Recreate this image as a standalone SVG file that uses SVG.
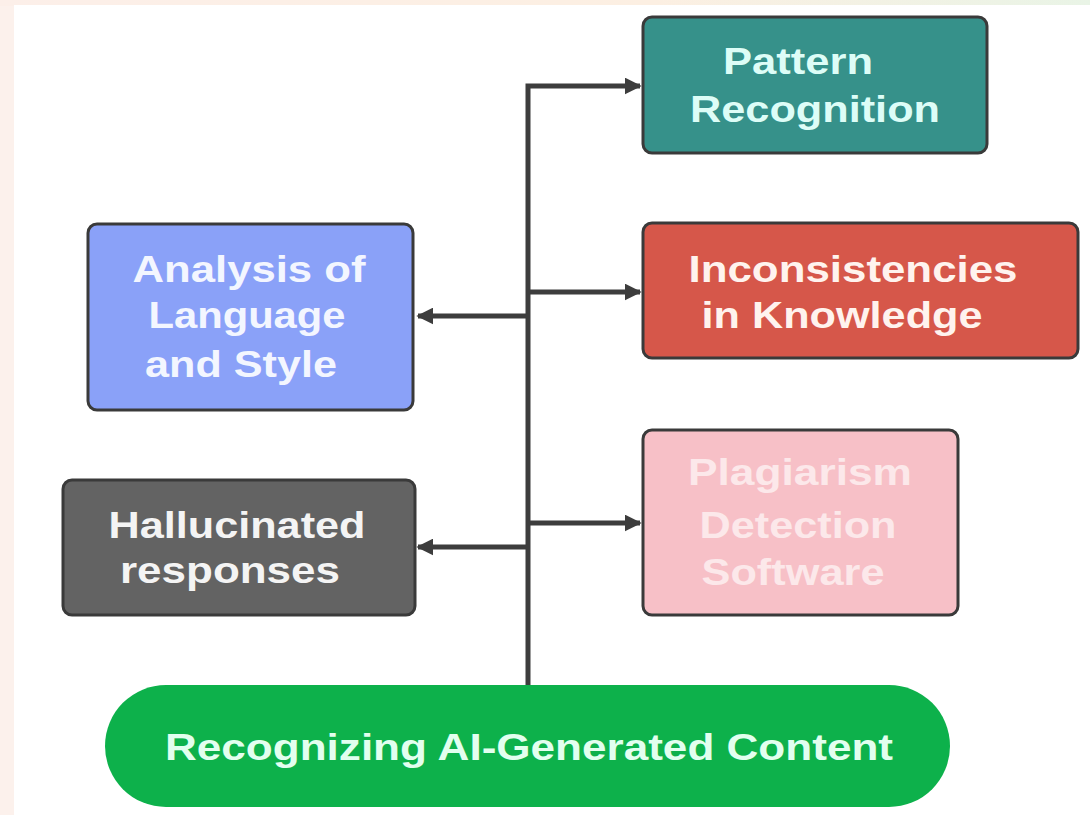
<svg xmlns="http://www.w3.org/2000/svg" width="1090" height="815" viewBox="0 0 1090 815">
<defs>
<linearGradient id="topg" x1="0" y1="0" x2="1" y2="0">
<stop offset="0" stop-color="#fcefe9"/>
<stop offset="0.6" stop-color="#fcefe2"/>
<stop offset="1" stop-color="#e9f4e6"/>
</linearGradient>
<marker id="arr" viewBox="0 0 10 10" refX="9" refY="5" markerWidth="3.4" markerHeight="3.4" orient="auto" markerUnits="strokeWidth">
<path d="M0,0 L10,5 L0,10 Z" fill="#3d3d3d"/>
</marker>
<style>
.box{stroke:#3a3a3a;stroke-width:3}
.t{font-family:"Liberation Sans",Arial,sans-serif;font-weight:bold;font-size:37px;text-anchor:middle}
.con{fill:none;stroke:#3d3d3d;stroke-width:5}
</style>
</defs>
<rect x="0" y="0" width="1090" height="815" fill="#fcf1ec"/>
<rect x="0" y="0" width="1090" height="6" fill="url(#topg)"/>
<rect x="14" y="5" width="1076" height="810" fill="#ffffff"/>

<g id="connectors">
<path class="con" d="M528,685 L528,86 L640,86" marker-end="url(#arr)"/>
<path class="con" d="M528,292 L640,292" marker-end="url(#arr)"/>
<path class="con" d="M528,316 L418,316" marker-end="url(#arr)"/>
<path class="con" d="M528,523 L640,523" marker-end="url(#arr)"/>
<path class="con" d="M528,547 L418,547" marker-end="url(#arr)"/>
</g>

<g id="pattern">
<rect class="box" x="643" y="17" width="344" height="136" rx="9" fill="#36918a"/>
<text class="t" fill="#ddfdf7"><tspan x="798" y="74" textLength="150" lengthAdjust="spacingAndGlyphs">Pattern</tspan><tspan x="815" y="122" textLength="250" lengthAdjust="spacingAndGlyphs">Recognition</tspan></text>
</g>

<g id="analysis">
<rect class="box" x="88" y="224" width="325" height="186" rx="9" fill="#8aa1f8"/>
<text class="t" fill="#f3f6ff"><tspan x="249" y="282" textLength="233" lengthAdjust="spacingAndGlyphs">Analysis of</tspan><tspan x="247" y="328" textLength="197" lengthAdjust="spacingAndGlyphs">Language</tspan><tspan x="241" y="377" textLength="192" lengthAdjust="spacingAndGlyphs">and Style</tspan></text>
</g>

<g id="inconsistencies">
<rect class="box" x="643" y="223" width="435" height="135" rx="9" fill="#d6574a"/>
<text class="t" fill="#fff3ee"><tspan x="853" y="282" textLength="329" lengthAdjust="spacingAndGlyphs">Inconsistencies</tspan><tspan x="842" y="328" textLength="281" lengthAdjust="spacingAndGlyphs">in Knowledge</tspan></text>
</g>

<g id="hallucinated">
<rect class="box" x="63" y="480" width="352" height="135" rx="9" fill="#636363"/>
<text class="t" fill="#f4f4f4"><tspan x="237" y="538" textLength="257" lengthAdjust="spacingAndGlyphs">Hallucinated</tspan><tspan x="230" y="583" textLength="220" lengthAdjust="spacingAndGlyphs">responses</tspan></text>
</g>

<g id="plagiarism">
<rect class="box" x="643" y="430" width="315" height="185" rx="9" fill="#f7c0c7"/>
<text class="t" fill="#fce8ea"><tspan x="800" y="485" textLength="224" lengthAdjust="spacingAndGlyphs">Plagiarism</tspan><tspan x="798" y="538" textLength="197" lengthAdjust="spacingAndGlyphs">Detection</tspan><tspan x="793" y="585" textLength="183" lengthAdjust="spacingAndGlyphs">Software</tspan></text>
</g>

<g id="root">
<rect x="105" y="685" width="845" height="122" rx="61" fill="#0db14b"/>
<text class="t" fill="#e2ffef" x="529" y="760" textLength="728" lengthAdjust="spacingAndGlyphs">Recognizing AI-Generated Content</text>
</g>
</svg>
